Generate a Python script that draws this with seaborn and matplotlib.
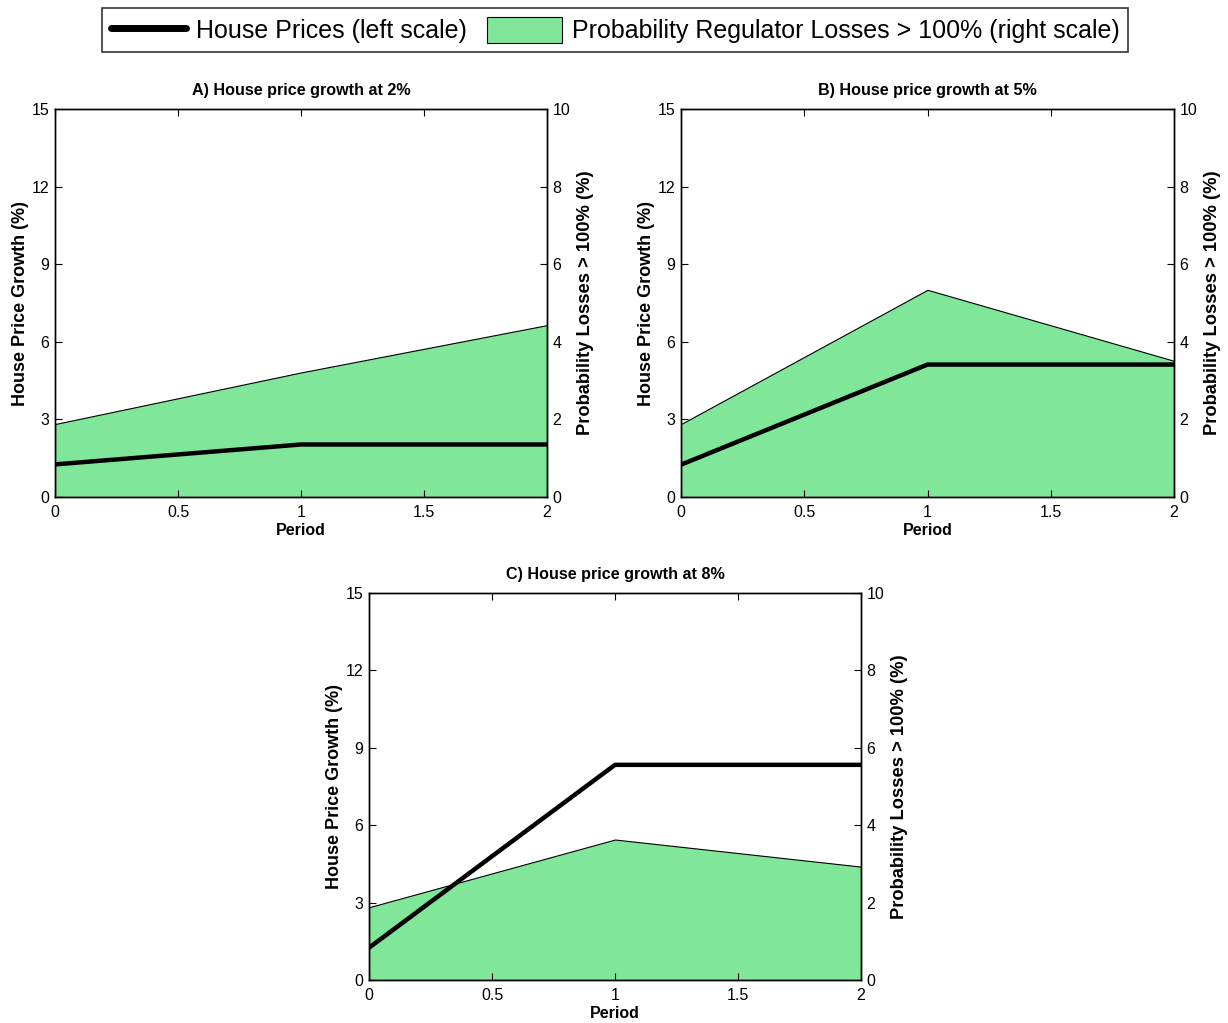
import matplotlib
matplotlib.use("Agg")
import matplotlib.pyplot as plt
from matplotlib.lines import Line2D
from matplotlib.patches import Patch
import numpy as np
import pandas as pd
import seaborn as sns

# Simulated paths over three periods
periods = [0, 1, 2]
house_growth_a = [1.26, 2.03, 2.03]
house_growth_b = [1.25, 5.12, 5.12]
house_growth_c = [1.25, 8.34, 8.34]
loss_prob_a = [1.88, 3.21, 4.43]
loss_prob_b = [1.88, 5.34, 3.51]
loss_prob_c = [1.88, 3.63, 2.93]
panel_titles = ["A) House price growth at 2%",
                "B) House price growth at 5%",
                "C) House price growth at 8%"]
left_ticks = [0, 3, 6, 9, 12, 15]
right_ticks = [0, 2, 4, 6, 8, 10]
x_ticks = [0, 0.5, 1, 1.5, 2]

sns.set_style("white")
plt.rcParams["font.family"] = ["Liberation Sans", "DejaVu Sans"]
plt.rcParams["text.color"] = "black"
plt.rcParams["axes.labelcolor"] = "black"

FILL = "#80E69A"

fig = plt.figure(figsize=(12.28, 10.23), dpi=100)
positions = [
    [55 / 1228, 1 - 497 / 1023, 492 / 1228, 388 / 1023],
    [681 / 1228, 1 - 497 / 1023, 493 / 1228, 388 / 1023],
    [369 / 1228, 1 - 980 / 1023, 492 / 1228, 387 / 1023],
]
house = [house_growth_a, house_growth_b, house_growth_c]
probs = [loss_prob_a, loss_prob_b, loss_prob_c]

for pos, hp, pr, title in zip(positions, house, probs, panel_titles):
    ax = fig.add_axes(pos)
    ax2 = ax.twinx()
    # probability area on the right scale
    ax2.fill_between(periods, 0, pr, facecolor=FILL, edgecolor="black",
                     linewidth=0.8)
    ax2.set_ylim(0, 10)
    ax2.set_yticks(right_ticks)
    ax2.set_ylabel("Probability Losses > 100% (%)", fontsize=13.2,
                   fontweight="bold", labelpad=5)
    # house price path on the left scale, drawn above the area
    df = pd.DataFrame({"Period": periods, "Growth": hp})
    sns.lineplot(data=df, x="Period", y="Growth", ax=ax, color="black",
                 linewidth=3.2)
    ax.set_zorder(ax2.get_zorder() + 1)
    ax.patch.set_visible(False)
    ax.set_xlim(0, 2)
    ax.set_ylim(0, 15)
    ax.set_xticks(x_ticks)
    ax.set_xticklabels(["0", "0.5", "1", "1.5", "2"])
    ax.set_yticks(left_ticks)
    ax.set_xlabel("Period", fontsize=11.5, fontweight="bold", labelpad=2)
    ax.set_ylabel("House Price Growth (%)", fontsize=13, fontweight="bold",
                  labelpad=2)
    ax.set_title(title, fontsize=11.6, fontweight="bold", pad=10)
    for a in (ax, ax2):
        for sp in a.spines.values():
            sp.set_visible(True)
            sp.set_color("black")
            sp.set_linewidth(1.0)
        a.tick_params(direction="in", length=5, width=0.8, labelsize=11.5,
                      colors="black", pad=4)
    ax.tick_params(axis="x", top=True, bottom=True, pad=6)
    ax.tick_params(axis="y", left=True, right=False)
    ax2.tick_params(axis="y", right=True, left=False)

handles = [Line2D([0], [0], color="black", linewidth=5),
           Patch(facecolor=FILL, edgecolor="black", linewidth=0.8)]
labels = ["House Prices (left scale)",
          "Probability Regulator Losses > 100% (right scale)"]
leg = fig.legend(handles, labels, loc="center", ncol=2,
                 bbox_to_anchor=(0.5008, 1 - 30 / 1023), fontsize=18,
                 frameon=True, fancybox=False, handlelength=3.0,
                 handleheight=1.2, columnspacing=0.8, handletextpad=0.4,
                 borderpad=0.35, borderaxespad=0.5)
leg.get_frame().set_edgecolor("black")
leg.get_frame().set_linewidth(1.2)

fig.savefig("out.png", dpi=100)
